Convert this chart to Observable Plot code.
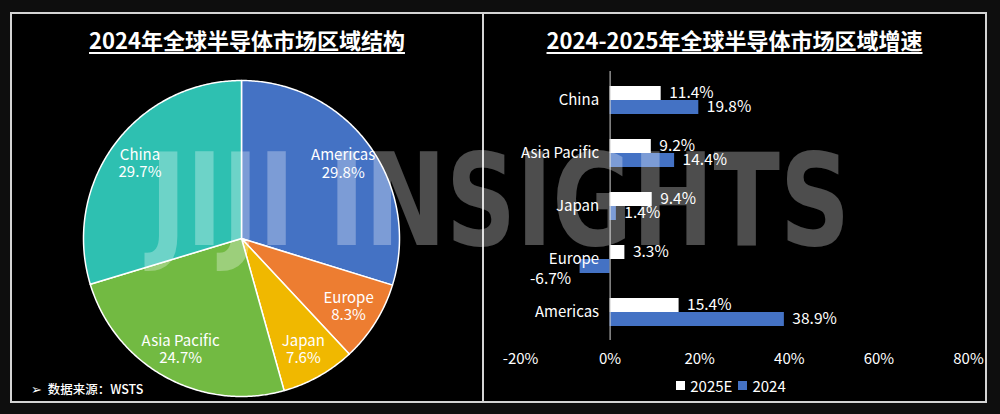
<!DOCTYPE html>
<html>
<head>
<meta charset="utf-8">
<script src="https://cdn.jsdelivr.net/npm/d3@7"></script>
<script src="https://cdn.jsdelivr.net/npm/@observablehq/plot@0.6"></script>
<style>
  html, body { margin: 0; padding: 0; }
  body { width: 1000px; height: 414px; background: #0e0e0e; position: relative; overflow: hidden;
         font-family: "Noto Sans CJK SC", "Noto Sans", sans-serif; color: #fff; }
  .panel { position: absolute; box-sizing: border-box; border: 2px solid #d4d4d4; background: #000; }
  .title { position: absolute; text-align: center; font-size: 22px; font-weight: bold; line-height: 24px;
           text-decoration: underline; text-underline-offset: 3px; text-decoration-thickness: 2px; color: #fff; }
  .abs { position: absolute; }
  .note { position: absolute; left: 31px; top: 381px; font-size: 12.5px; line-height: 16px; color: #fff; font-weight: 500; }
  .lg-swatch { margin-right: 6px !important; font-size: 15px; color: #fff; }
  .lg-swatch > svg { margin-right: 5px !important; }
  #watermark { position: absolute; left: 0; top: 0; pointer-events: none; z-index: 10; }
</style>
</head>
<body>
<div class="panel" style="left:10px; top:12px; width:474px; height:391px;"></div>
<div class="panel" style="left:482px; top:12px; width:505px; height:391px;"></div>
<div class="title" style="left:10px; top:27px; width:474px;">2024年全球半导体市场区域结构</div>
<div class="title" style="left:482px; top:27px; width:505px;">2024-2025年全球半导体市场区域增速</div>
<div class="note">➢&nbsp; 数据来源：WSTS</div>
<div id="pie" class="abs" style="left:61px; top:68px;"></div>
<div id="bars" class="abs" style="left:484px; top:60px;"></div>
<div id="legend" class="abs" style="left:484px; top:369px; width:500px;"></div>
<svg id="watermark" width="1000" height="414">
  <text x="150" y="245" textLength="700" lengthAdjust="spacingAndGlyphs" font-family="DejaVu Sans" font-weight="bold"
        font-stretch="condensed" font-size="128" fill="#ffffff" fill-opacity="0.3">JIJI INSIGHTS</text>
</svg>
<script>
// ---- Pie data (2024 regional structure) ----
const pieRegions = ["Americas", "Europe", "Japan", "Asia Pacific", "China"];
const pieShares = [29.8, 8.3, 7.6, 24.7, 29.7];
const pieColors = ["#4472C4", "#ED7D31", "#F0B800", "#72BA42", "#2EC0B1"];

// ---- Bar data (growth rates) ----
const barRegions = ["China", "Asia Pacific", "Japan", "Europe", "Americas"];
const growth2025E = [11.4, 9.2, 9.4, 3.3, 15.4];
const growth2024 = [19.8, 14.4, 1.4, -6.7, 38.9];
const seriesNames = ["2025E", "2024"];
const seriesColors = ["#FFFFFF", "#4472C4"];
const xTicks = [-20, 0, 20, 40, 60, 80];

const font = '"Noto Sans CJK SC", "Noto Sans", sans-serif';

// ---- Pie geometry built from the shares ----
const total = d3.sum(pieShares);
const pieArcs = [];
const pieLabels = [];
let acc = 0;
pieRegions.forEach((r, i) => {
  const a0 = acc / total * 2 * Math.PI;
  acc += pieShares[i];
  const a1 = acc / total * 2 * Math.PI;
  const n = Math.max(2, Math.ceil((a1 - a0) / 0.01));
  pieArcs.push({region: r, px: 0, py: 0});
  for (let k = 0; k <= n; k++) {
    const a = a0 + (a1 - a0) * k / n;
    pieArcs.push({region: r, px: Math.sin(a), py: Math.cos(a)});
  }
  pieArcs.push({region: r, px: 0, py: 0});
  const am = (a0 + a1) / 2;
  pieLabels.push({region: r, px: 0.8 * Math.sin(am), py: 0.8 * Math.cos(am),
                  label: `${r}\n${pieShares[i].toFixed(1)}%`});
});

const pie = Plot.plot({
  width: 360, height: 340, margin: 0,
  style: {background: "transparent", fontFamily: font},
  x: {domain: [-1, 1], range: [22, 338], axis: null},
  y: {domain: [-1, 1], range: [328, 12], axis: null},
  color: {domain: pieRegions, range: pieColors},
  marks: [
    Plot.line(pieArcs, {x: "px", y: "py", z: "region", fill: "region", stroke: "white",
                        strokeWidth: 1.5, strokeLinejoin: "round"}),
    Plot.text(pieLabels, {x: "px", y: "py", text: "label", fill: "white", fontSize: 15, lineHeight: 1.15})
  ]
});
document.getElementById("pie").appendChild(pie);

// ---- Bars ----
const rows = [];
barRegions.forEach((r, i) => {
  rows.push({region: r, series: seriesNames[0], value: growth2025E[i]});
  rows.push({region: r, series: seriesNames[1], value: growth2024[i]});
});
const fmt = v => v.toFixed(1) + "%";
const s0 = rows.filter(d => d.series === seriesNames[0]);
const s1 = rows.filter(d => d.series === seriesNames[1]);

const bars = Plot.plot({
  width: 500, height: 320,
  marginTop: 11, marginBottom: 40, marginLeft: 36, marginRight: 16,
  style: {background: "transparent", color: "white", fontFamily: font, fontSize: "15px"},
  x: {domain: [-20, 80], ticks: xTicks, tickFormat: d => d + "%", tickSize: 0, tickPadding: 13, label: null},
  y: {domain: barRegions, paddingInner: 0.48, paddingOuter: 0.24, axis: null},
  color: {domain: seriesNames, range: seriesColors},
  marks: [
    Plot.barX(s0, {x: "value", y: "region", fill: "series", insetBottom: 14}),
    Plot.barX(s1, {x: "value", y: "region", fill: "series", insetTop: 14}),
    Plot.ruleX([0], {stroke: "#d4d4d4", strokeWidth: 1}),
    Plot.text(barRegions, {x: () => 0, y: d => d, text: d => d, textAnchor: "end", dx: -11,
                           fill: "white", fontSize: 15}),
    Plot.text(s0, {x: "value", y: "region", text: d => fmt(d.value), textAnchor: "start", dx: 8, dy: -7,
                   fill: "white", fontSize: 15.5}),
    Plot.text(s1.filter(d => d.value >= 0), {x: "value", y: "region", text: d => fmt(d.value),
                   textAnchor: "start", dx: 8, dy: 7, fill: "white", fontSize: 15.5}),
    Plot.text(s1.filter(d => d.value < 0), {x: "value", y: "region", text: d => fmt(d.value),
                   textAnchor: "end", dx: -9, dy: 20, fill: "white", fontSize: 15.5})
  ]
});
document.getElementById("bars").appendChild(bars);

const legend = Plot.legend({
  color: {domain: seriesNames, range: seriesColors},
  legend: "swatches", swatchSize: 9, className: "lg",
  style: {fontFamily: font, fontSize: "15px", color: "white", background: "transparent"}
});
legend.style.justifyContent = "center";
document.getElementById("legend").appendChild(legend);
</script>
</body>
</html>
